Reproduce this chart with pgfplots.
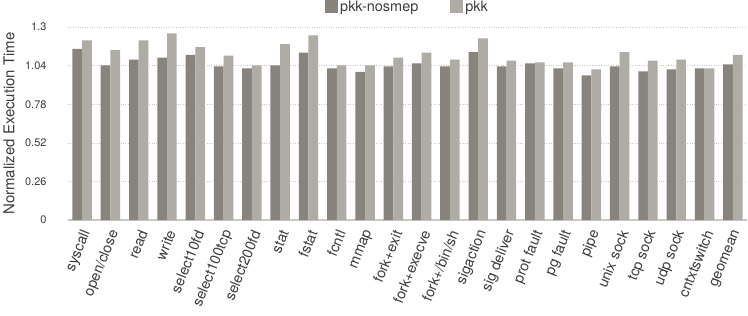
\documentclass[border=0pt]{standalone}
\usepackage{pgfplots}
\pgfplotsset{compat=1.18}
\usepackage{fontspec}
\setmainfont{TeX Gyre Heros}
\definecolor{darkbar}{RGB}{136,132,125}
\definecolor{lightbar}{RGB}{175,171,165}
\definecolor{gridc}{RGB}{200,200,200}
\definecolor{txt}{RGB}{60,60,60}
\begin{document}
\begin{tikzpicture}
\begin{axis}[
  at={(0,0)}, anchor=south west,
  scale only axis, width=679bp, height=193bp,
  ybar=0pt, bar width=0.343,
  xmin=-0.5, xmax=23.5, ymin=0, ymax=1.3,
  xtick={0,...,23},
  xticklabels={syscall,open/close,read,write,select10fd,select100tcp,select200fd,stat,fstat,fcntl,mmap,fork+exit,fork+execve,fork+/bin/sh,sigaction,sig deliver,prot fault,pg fault,pipe,unix sock,tcp sock,udp sock,cntxtswitch,geomean},
  ytick={0,0.26,0.52,0.78,1.04,1.3},
  yticklabels={0,0.26,0.52,0.78,1.04,1.3},
  major tick length=0pt,
  axis x line*=bottom, axis y line*=left,
  x axis line style={draw=gridc, line width=1.2pt, -},
  y axis line style={draw=none},
  ymajorgrids, grid style={gridc, dotted, line width=0.6pt},
  yticklabel style={font=\fontsize{11}{12}\selectfont, text=txt, xshift=-18bp},
  xticklabel shift=10bp,
  xticklabel style={font=\fontsize{14.5}{15}\selectfont, text=txt, rotate=68, anchor=east, inner sep=1pt, xshift=1.9bp, yshift=-4.6bp},
  ylabel={Normalized Execution Time},
  ylabel style={at={(axis description cs:-0.087,0.5)}, anchor=center, font=\fontsize{15}{16}\selectfont, text=txt},
  legend style={at={(0.5,1)}, anchor=south, yshift=12bp, draw=none, fill=none, legend columns=2,
    font=\fontsize{14.5}{15}\selectfont, text=txt, inner sep=0pt,
    /tikz/every even column/.append style={column sep=30bp},
    legend cell align=left},
  legend image code/.code={\fill[#1] (0bp,-6.5bp) rectangle (13bp,6.5bp);},
  clip=false,
]
\addplot[fill=darkbar, draw=none] coordinates {
(0,1.152) (1,1.042) (2,1.080) (3,1.093) (4,1.113) (5,1.035) (6,1.021) (7,1.042)
(8,1.127) (9,1.021) (10,0.997) (11,1.035) (12,1.055) (13,1.035) (14,1.131) (15,1.035)
(16,1.055) (17,1.021) (18,0.974) (19,1.035) (20,1.001) (21,1.015) (22,1.021) (23,1.048)};
\addplot[fill=lightbar, draw=none] coordinates {
(0,1.210) (1,1.145) (2,1.210) (3,1.257) (4,1.165) (5,1.107) (6,1.042) (7,1.185)
(8,1.244) (9,1.042) (10,1.042) (11,1.093) (12,1.127) (13,1.080) (14,1.223) (15,1.073)
(16,1.062) (17,1.062) (18,1.015) (19,1.131) (20,1.073) (21,1.080) (22,1.021) (23,1.113)};
\legend{pkk-nosmep,pkk}
\end{axis}
\pgfresetboundingbox
\path[use as bounding box] (-68bp,-96bp) rectangle (680bp,220bp);
\end{tikzpicture}
\end{document}
